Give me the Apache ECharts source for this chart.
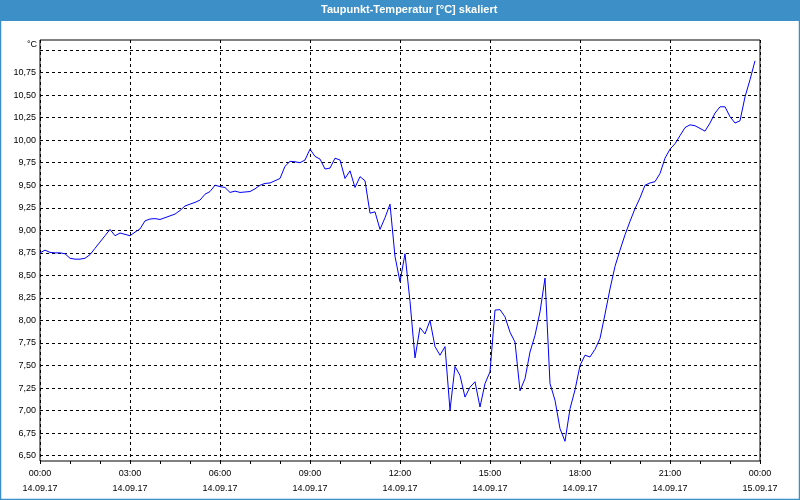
<!DOCTYPE html>
<html>
<head>
<meta charset="utf-8">
<script src="https://cdn.jsdelivr.net/npm/echarts@6/dist/echarts.min.js"></script>
<style>
html,body{margin:0;padding:0;background:#fff;}
#chart{width:800px;height:500px;}
</style>
</head>
<body>
<div id="chart"></div>
<script>
// Dew point values, 10-minute steps starting 14.09.17 00:00
const values = [
  8.75, 8.78, 8.755, 8.75, 8.75, 8.74, 8.69, 8.68, 8.68, 8.69, 8.73, 8.80,
  8.87, 8.94, 9.01, 8.94, 8.97, 8.955, 8.94, 8.98, 9.015, 9.105, 9.125, 9.13,
  9.12, 9.14, 9.16, 9.18, 9.22, 9.27, 9.29, 9.31, 9.335, 9.40, 9.43, 9.50,
  9.485, 9.475, 9.42, 9.435, 9.42, 9.425, 9.43, 9.46, 9.50, 9.52, 9.525, 9.55,
  9.575, 9.71, 9.765, 9.76, 9.75, 9.78, 9.90, 9.82, 9.79, 9.68, 9.69, 9.80,
  9.78, 9.575, 9.66, 9.475, 9.595, 9.55, 9.19, 9.205, 9.01, 9.14, 9.29, 8.71,
  8.43, 8.74, 8.21, 7.585, 7.92, 7.85, 8.00, 7.71, 7.615, 7.71, 7.005, 7.49,
  7.39, 7.15, 7.26, 7.32, 7.04, 7.30, 7.43, 8.115, 8.12, 8.04, 7.87, 7.76,
  7.22, 7.355, 7.65, 7.835, 8.095, 8.47, 7.30, 7.115, 6.80, 6.66, 7.02, 7.23,
  7.50, 7.615, 7.595, 7.68, 7.80, 8.07, 8.35, 8.60, 8.78, 8.95, 9.10, 9.24,
  9.36, 9.50, 9.525, 9.54, 9.63, 9.80, 9.90, 9.96, 10.05, 10.14, 10.17, 10.16,
  10.13, 10.10, 10.19, 10.30, 10.37, 10.37, 10.26, 10.19, 10.215, 10.48, 10.67, 10.88
];
const stepMinutes = 10;
const xTickTimes = ['00:00','03:00','06:00','09:00','12:00','15:00','18:00','21:00','00:00'];
const xTickDates = ['14.09.17','14.09.17','14.09.17','14.09.17','14.09.17','14.09.17','14.09.17','14.09.17','15.09.17'];
const titleText = 'Taupunkt-Temperatur [°C] skaliert';
const yUnit = '°C';

const seriesData = values.map((v, i) => [i * stepMinutes / 60, v]);

const chart = echarts.init(document.getElementById('chart'));
const labelFont = {fontFamily: 'Liberation Sans, Arial, sans-serif', fontSize: 9, color: '#000'};

chart.setOption({
  backgroundColor: '#ffffff',
  animation: false,
  title: {
    text: titleText,
    left: 321, top: 4, padding: 0,
    textStyle: {color: '#fff', fontSize: 11, fontWeight: 'bold', fontFamily: 'Liberation Sans, Arial, sans-serif'}
  },
  graphic: [
    {type: 'rect', z: -10, shape: {x: 0, y: 0, width: 800, height: 21}, style: {fill: '#3d8fc7'}},
    {type: 'rect', z: -10, shape: {x: 0.5, y: 0.5, width: 799, height: 499}, style: {fill: null, stroke: '#3d8fc7', lineWidth: 1.5}}
  ],
  grid: [
    {left: 40, right: 40, top: 40, bottom: 39, show: true, borderColor: '#000', borderWidth: 1, backgroundColor: 'transparent'},
    {left: 40, right: 40, top: 50, bottom: 44.3, show: false}
  ],
  xAxis: [
    {
      gridIndex: 0, type: 'value', min: 0, max: 24, interval: 3,
      axisLine: {show: false}, axisTick: {show: false}, axisLabel: {show: false},
      splitLine: {show: true, lineStyle: {color: '#000', type: [3, 3], width: 1}}
    },
    {
      gridIndex: 1, type: 'value', min: 0, max: 24, interval: 3, offset: 5.3,
      axisLine: {show: false},
      axisTick: {show: true, length: 3, lineStyle: {color: '#000'}},
      minorTick: {show: true, splitNumber: 3, length: 3, lineStyle: {color: '#000'}},
      splitLine: {show: false},
      axisLabel: {
        ...labelFont, margin: 5, lineHeight: 15,
        formatter: v => { const k = Math.round(v / 3); return xTickTimes[k] + '\n' + xTickDates[k]; }
      }
    }
  ],
  yAxis: [
    {gridIndex: 0, type: 'value', min: 0, max: 1, show: false},
    {
      gridIndex: 1, type: 'value', min: 6.5, max: 11, interval: 0.25,
      name: yUnit, nameLocation: 'end', nameGap: 5,
      nameTextStyle: {...labelFont, align: 'right', verticalAlign: 'middle', padding: [0, 3, 0, 0]},
      axisLine: {show: false}, axisTick: {show: false},
      splitLine: {show: true, lineStyle: {color: '#000', type: [3, 3], width: 1}},
      axisLabel: {
        ...labelFont, margin: 4,
        formatter: v => (Math.abs(v - 11) < 1e-6 ? '' : v.toFixed(2).replace('.', ','))
      }
    }
  ],
  series: [{
    type: 'line', xAxisIndex: 1, yAxisIndex: 1,
    data: seriesData, showSymbol: false, symbol: 'none',
    lineStyle: {color: '#0000ff', width: 1}
  }]
});
</script>
</body>
</html>
